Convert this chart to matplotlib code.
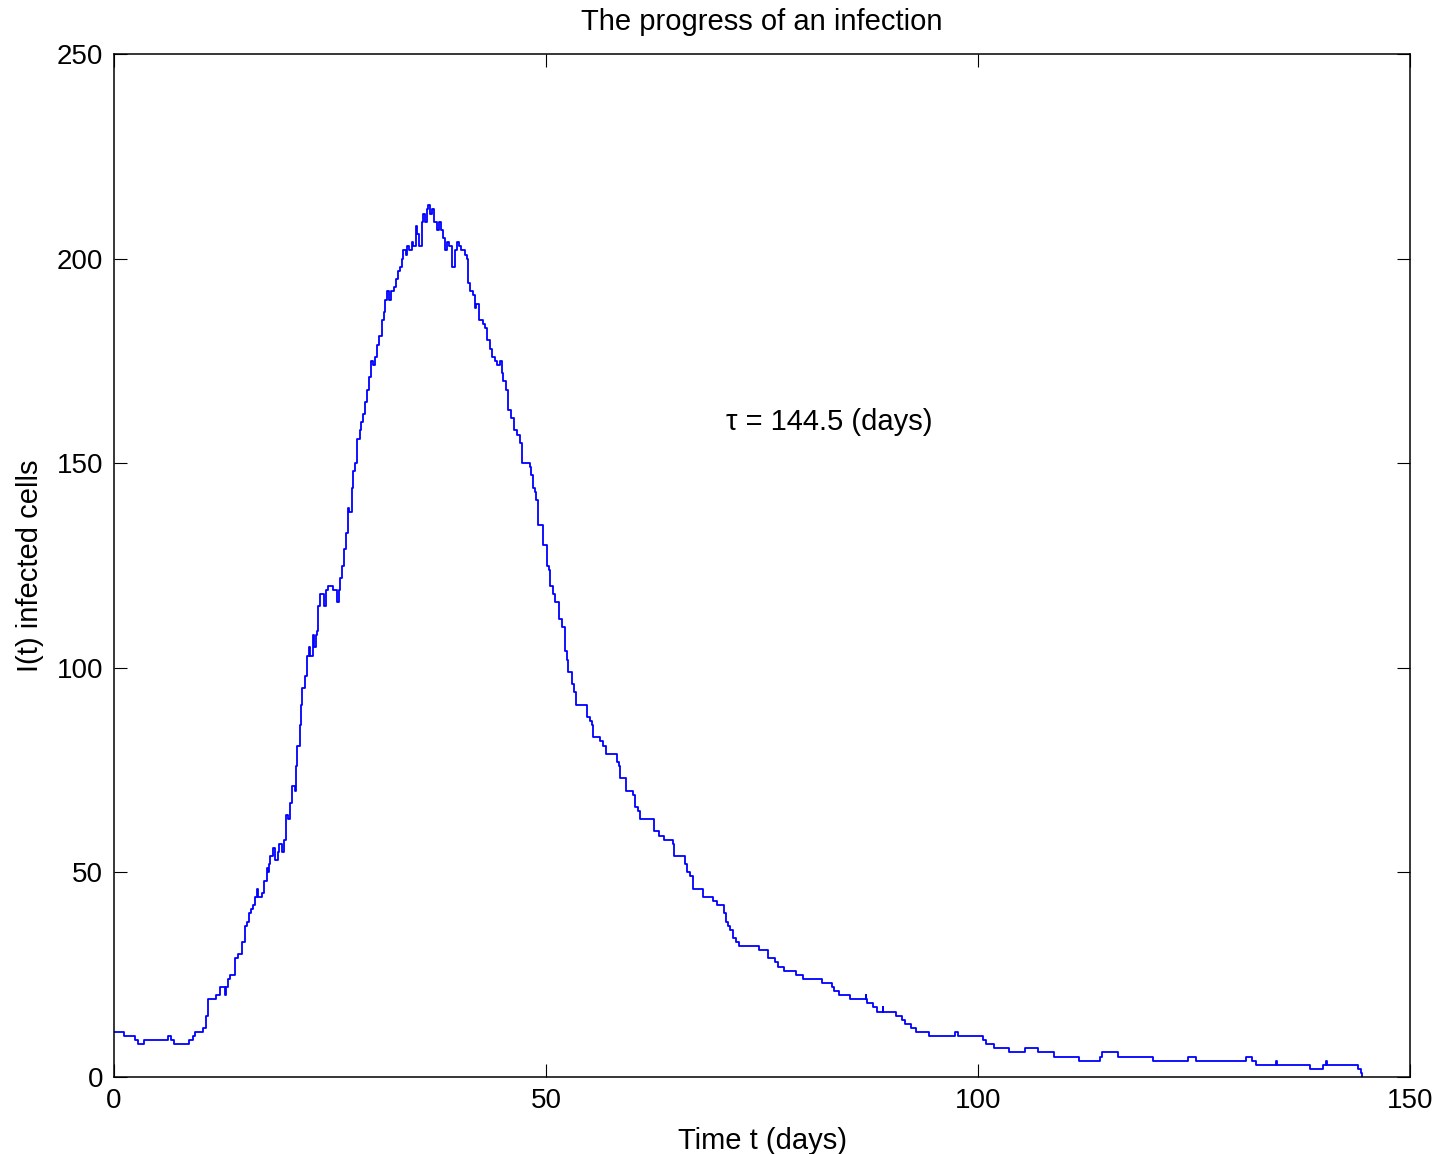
import matplotlib
matplotlib.use("Agg")
import matplotlib.pyplot as plt

# Breakpoints of the stochastic step trajectory (time in days, infected cells)
time_days = [
    0, 1.2, 2.4, 2.8, 3.5, 6.2, 6.6, 7.0, 8.7, 9.1, 9.4, 10.3, 10.7, 10.9, 11.8,
    12.3, 12.9, 13.0, 13.2, 13.4, 14.0, 14.4, 14.8, 15.2, 15.4, 15.6, 15.8, 16.1,
    16.3, 16.5, 16.7, 17.1, 17.4, 17.7, 17.8, 17.9, 18.1, 18.4, 18.6, 19.0, 19.1,
    19.4, 19.7, 19.9, 20.1, 20.4, 20.6, 20.95, 21.1, 21.2, 21.5, 21.6, 21.8, 22.1,
    22.3, 22.6, 22.7, 23.0, 23.1, 23.4, 23.5, 23.6, 23.8, 24.3, 24.5, 24.8, 25.4,
    25.8, 26.0, 26.2, 26.4, 26.6, 26.85, 27.1, 27.2, 27.5, 27.7, 27.9, 28.1, 28.5,
    28.6, 28.85, 29.0, 29.25, 29.55, 29.7, 30.0, 30.2, 30.4, 30.7, 31.0, 31.2,
    31.4, 31.6, 31.8, 32.1, 32.4, 32.6, 32.9, 33.1, 33.3, 33.5, 33.8, 33.95, 34.2,
    34.45, 34.65, 34.95, 35.1, 35.3, 35.6, 35.8, 36.0, 36.2, 36.4, 36.6, 36.8,
    37.0, 37.35, 37.65, 37.9, 38.1, 38.3, 38.5, 38.8, 39.1, 39.5, 39.65, 39.95,
    40.2, 40.6, 40.8, 41.0, 41.2, 41.5, 41.8, 41.95, 42.3, 42.75, 42.9, 43.2,
    43.5, 43.8, 44.1, 44.3, 44.7, 44.85, 45.05, 45.4, 45.6, 46.0, 46.3, 46.6,
    47.0, 47.2, 48.1, 48.3, 48.5, 48.7, 48.8, 49.1, 49.6, 50.1, 50.4, 50.5, 50.8,
    51.0, 51.5, 51.8, 52.2, 52.4, 52.6, 53.0, 53.2, 53.5, 54.7, 55.1, 55.3, 55.4,
    56.25, 56.6, 56.9, 58.2, 58.4, 58.6, 59.3, 60.1, 60.3, 60.7, 60.9, 62.5, 63.1,
    63.7, 64.65, 64.8, 66.1, 66.35, 66.7, 67.0, 68.2, 69.3, 69.8, 70.6, 70.8, 71.1,
    71.3, 71.7, 72.0, 72.3, 74.65, 75.7, 76.5, 76.8, 77.6, 78.9, 79.7, 81.9, 83.1,
    83.3, 83.9, 85.2, 87.0, 87.05, 87.1, 87.8, 88.3, 89.0, 89.05, 90.5, 91.2, 91.5,
    92.2, 92.8, 94.3, 97.3, 97.7, 100.6, 100.9, 101.8, 103.6, 105.4, 107.0, 108.8,
    111.7, 114.1, 114.3, 116.2, 120.2, 124.3, 125.2, 131.0, 131.75, 132.2, 134.5,
    134.55, 138.4, 139.9, 140.3, 140.35, 144.0, 144.3, 144.5,
]
infected = [
    11, 10, 9, 8, 9, 10, 9, 8, 9, 10, 11, 12, 15, 19, 20,
    22, 20, 22, 24, 25, 29, 30, 33, 37, 38, 40, 41, 42,
    44, 46, 44, 45, 48, 51, 50, 52, 54, 56, 53, 55, 57,
    55, 58, 64, 63, 67, 71, 70, 76, 81, 86, 91, 95, 98,
    103, 105, 103, 108, 105, 108, 109, 115, 118, 115, 119, 120, 119,
    116, 119, 122, 125, 129, 133, 139, 138, 144, 148, 150, 156, 158,
    160, 162, 165, 168, 171, 175, 174, 176, 179, 181, 185, 187,
    190, 192, 190, 192, 193, 195, 197, 198, 200, 202, 201, 203, 202,
    204, 203, 208, 206, 203, 209, 211, 209, 212, 213, 211, 212,
    209, 207, 209, 207, 205, 202, 204, 203, 198, 202, 204, 203,
    202, 201, 200, 194, 192, 191, 188, 189, 185, 184, 183, 180,
    178, 176, 175, 174, 175, 172, 170, 168, 163, 161, 158, 157,
    155, 150, 149, 147, 144, 143, 141, 135, 130, 125, 124, 120, 118,
    116, 112, 110, 104, 102, 99, 96, 94, 91, 88, 87, 86, 83,
    82, 81, 79, 77, 76, 73, 70, 69, 66, 65, 63, 60, 59,
    58, 57, 54, 52, 50, 49, 46, 44, 43, 42, 40, 38, 37,
    36, 34, 33, 32, 31, 29, 28, 27, 26, 25, 24, 23, 22,
    21, 20, 19, 20, 19, 18, 17, 16, 17, 16, 15, 14, 13,
    12, 11, 10, 11, 10, 9, 8, 7, 6, 7, 6, 5,
    4, 5, 6, 5, 4, 5, 4, 5, 4, 3, 4,
    3, 2, 3, 4, 3, 2, 1, 0,
]

title_text = "The progress of an infection"
x_label = "Time t (days)"
y_label = "I(t) infected cells"
annotation = "\u03c4 = 144.5 (days)"
x_ticks = [0, 50, 100, 150]
y_ticks = [0, 50, 100, 150, 200, 250]

plt.rcParams['font.family'] = ['Liberation Sans', 'DejaVu Sans']

fig = plt.figure(figsize=(14.43, 11.54), dpi=100)
ax = fig.add_axes([114 / 1443, 1 - 1077 / 1154, (1410 - 114) / 1443, (1077 - 54) / 1154])

ax.plot(time_days, infected, drawstyle='steps-post', color='#0000ff', linewidth=1.3)

ax.set_xlim(0, 150)
ax.set_ylim(0, 250)
ax.set_xticks(x_ticks)
ax.set_yticks(y_ticks)
ax.tick_params(direction='in', length=9.5, width=0.8, top=True, right=True,
               labelsize=20, pad=8, color='black')
for s in ax.spines.values():
    s.set_linewidth(1.1)
    s.set_color('black')

ax.set_title(title_text, fontsize=21, pad=17)
ax.set_xlabel(x_label, fontsize=21, labelpad=9)
ax.set_ylabel(y_label, fontsize=21, labelpad=9)
ax.text(70.8, 160, annotation, fontsize=21, ha='left', va='center')

fig.savefig('out.png', dpi=100)
